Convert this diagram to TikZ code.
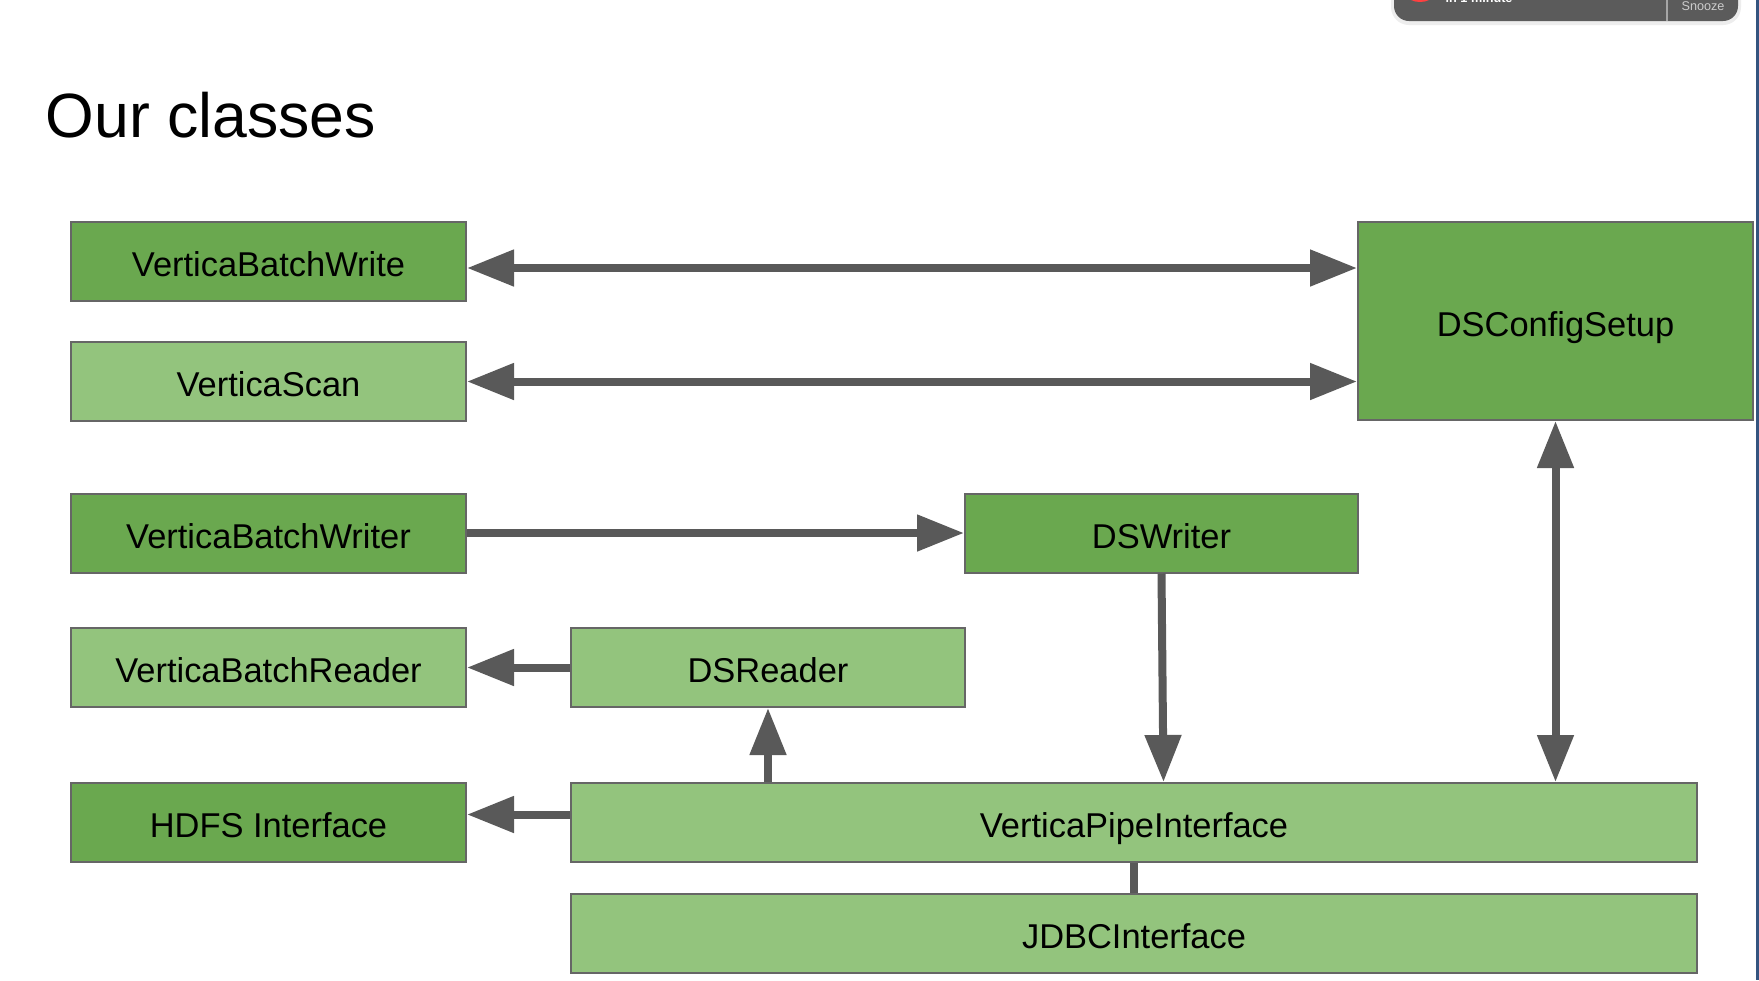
\documentclass[tikz,border=0pt]{standalone}
\usepackage{fontspec}
\setmainfont{Liberation Sans}
\usetikzlibrary{shapes}
\usetikzlibrary{arrows.meta}
\usetikzlibrary{calc}
\definecolor{slide dark green}{HTML}{6AA84F}
\definecolor{slide light green}{HTML}{93C47D}
\definecolor{slide border}{HTML}{666666}
\definecolor{slide arrow}{HTML}{595959}
\definecolor{popup gray}{HTML}{5B5B5B}
\definecolor{edge blue}{HTML}{34547F}

\begin{document}
\begin{tikzpicture}[x = 0.1mm, y = -0.1mm,
    class/.style = {draw = slide border, line width = 0.2mm, inner sep = 0pt,
      minimum width = 39.5mm, minimum height = 7.9mm,
      text height = 0.86em, text depth = 0pt,
      font = \fontsize{9.8pt}{12pt}\selectfont},
    dark class/.style = {class, fill = slide dark green},
    light class/.style = {class, fill = slide light green},
    link/.style = {draw = slide arrow, line width = 0.8mm,
      arrows = {-{Triangle[length = 4.7mm, width = 3.5mm]}}},
    two way/.style = {link,
      arrows = {{Triangle[length = 4.7mm, width = 3.5mm]}-{Triangle[length = 4.7mm, width = 3.5mm]}}}]
      \useasboundingbox (0, 0) rectangle (1759, 980);
      \fill[white] (0, 0) rectangle (1759, 980);

      % screen edge and the notification popup cut off at the top
      \draw[edge blue, line width = 0.25mm] (1757.5, 0) -- (1757.5, 980);
      \fill[black!7, rounded corners = 1.8mm] (1391, -30) rectangle (1741, 25);
      \fill[popup gray, rounded corners = 1.5mm] (1394, -30) rectangle (1738, 21);
      \fill[red!75] (1420, -5) ellipse [x radius = 13, y radius = 7];
      \draw[gray!70] (1667, 0) -- (1667, 21);
      \node[anchor = base west, inner sep = 0pt, text = white, font = \bfseries\fontsize{3.6pt}{4pt}\selectfont]
        (popuptext) at (1445, 2) {in 1 minute};
      \node[anchor = base, text = black!20, font = \fontsize{3.6pt}{4pt}\selectfont]
        (snooze) at (1703, 10) {Snooze};

      \node[anchor = base west, font = \fontsize{17.8pt}{20pt}\selectfont, inner sep = 0pt]
        (title) at (45, 137) {Our classes};

      % left column
      \node[dark class] (batchwrite) at (268.5, 261.5) {VerticaBatchWrite};
      \node[light class] (scan) at (268.5, 381.5) {VerticaScan};
      \node[dark class] (batchwriter) at (268.5, 533) {VerticaBatchWriter};
      \node[light class] (batchreader) at (268.5, 667.5) {VerticaBatchReader};
      \node[dark class] (hdfs) at (268.5, 822.5) {HDFS Interface};

      % right part
      \node[dark class, minimum height = 19.8mm] (config) at (1555.5, 321) {DSConfigSetup};
      \node[dark class, minimum width = 39.3mm] (dswriter) at (1161.5, 533) {DSWriter};
      \node[light class, minimum width = 39.4mm] (dsreader) at (768, 667.5) {DSReader};
      \node[light class, minimum width = 112.6mm] (pipe) at (1134, 822.5) {VerticaPipeInterface};
      \node[light class, minimum width = 112.6mm] (jdbc) at (1134, 933.5) {JDBCInterface};

      \draw[two way] ([yshift = -0.65mm]batchwrite.east) -- ([yshift = -0.65mm]batchwrite.east -| config.west);
      \draw[two way] (scan.east) -- (scan.east -| config.west);
      \draw[link] (batchwriter.east) -- (dswriter.west);
      \draw[link] (dsreader.west) -- (batchreader.east);
      \draw[link] ([yshift = 0.8mm]pipe.west) -- ([yshift = 0.8mm]pipe.west -| hdfs.east);
      \draw[link] (dsreader.south |- pipe.north) -- (dsreader.south);
      \draw[link] (dswriter.south) -- ([xshift = 0.2mm]dswriter.south |- pipe.north);
      \draw[two way] (config.south) -- (config.south |- pipe.north);
      \draw[draw = slide arrow, line width = 0.75mm] (pipe.south) -- (jdbc.north);
    \end{tikzpicture}
\end{document}
